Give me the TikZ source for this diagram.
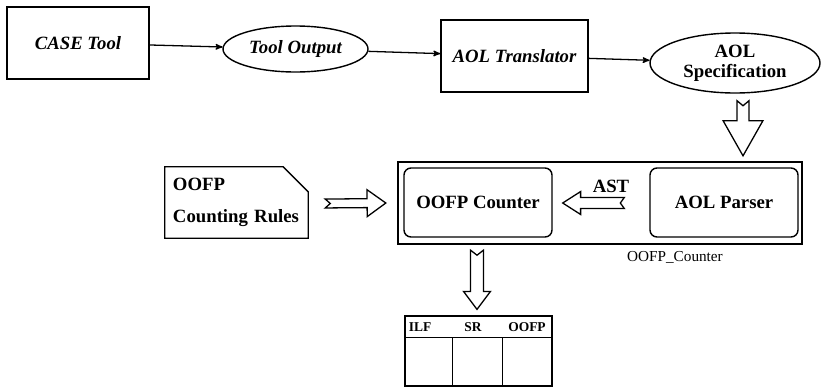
\documentclass[tikz,border=0pt]{standalone}
\usepackage{fontspec}
\setmainfont{Liberation Serif}
\setsansfont{Liberation Sans}
\usetikzlibrary{calc,shapes,arrows}
\tikzstyle{every edge}=[->,>=stealth',line width=1.1pt,draw]
\tikzstyle{tool}=[draw,line width=1.2pt,minimum width=4.26cm,minimum height=2.16cm,font=\fontsize{16}{18}\selectfont\bfseries\itshape]
\tikzstyle{data}=[draw,ellipse,line width=1.2pt,inner sep=0pt,font=\fontsize{16}{18}\selectfont\bfseries\itshape]
\tikzstyle{part}=[draw,rounded corners=6pt,line width=1.2pt,minimum width=4.44cm,minimum height=2.07cm,font=\fontsize{16}{18}\selectfont\bfseries]
\tikzstyle{head}=[inner sep=0pt,font=\fontsize{11.5}{13}\selectfont\bfseries]
% hollow block arrow: shaft half width, head half width, head length, notch depth
\tikzset{hollow/.style n args={4}{draw,line width=1.1pt,fill=white,to path={
    let \p1=(\tikztostart), \p2=(\tikztotarget),
        \p3=($(\p2)!#3!(\p1)$), \p4=($(\p1)!#4!(\p2)$) in
    ($(\p1)!#1!90:(\p2)$) -- ($(\p3)!#1!90:(\p2)$) -- ($(\p3)!#2!90:(\p2)$)
    -- (\p2) -- ($(\p3)!#2!-90:(\p2)$) -- ($(\p3)!#1!-90:(\p2)$)
    -- ($(\p1)!#1!-90:(\p2)$) -- (\p4) -- cycle}}}

\begin{document}
\begin{tikzpicture}[x=0.03cm,y=-0.03cm]
  \useasboundingbox (0,0) rectangle (821,386);

  % top row
  \node[tool] (case) at (78,43) {CASE Tool};
  \node[data,minimum width=4.35cm,minimum height=1.38cm] (out) at (295.5,49) {Tool Output};
  \node[tool,minimum width=4.41cm] (trans) at (514.5,56) {AOL Translator};
  \node[data,minimum width=5.1cm,minimum height=1.8cm,align=center,
        font=\fontsize{16}{17}\selectfont\bfseries] (spec) at (735,63) {AOL\\Specification};

  \path (case) edge (out)
  (out) edge (trans)
  (trans) edge (spec);

  % counting rules
  \node[text width=3.81cm,inner xsep=0.24cm,minimum height=2.13cm,align=left,
        font=\fontsize{16}{27}\selectfont\bfseries] (rules) at (236.5,202.5) {OOFP\\Counting Rules};
  \draw[line width=1.2pt] (rules.south west) -- (rules.north west)
    -- ($(rules.north east)+(-25,0)$) -- ($(rules.north east)+(0,25)$)
    -- (rules.south east) -- cycle;

  % counter component
  \node[draw,line width=2pt,minimum width=12.12cm,minimum height=2.46cm] (counter) at (600,203) {};
  \node[part] (cnt) at (478,202.5) {OOFP Counter};
  \node[part] (parser) at (724,202.5) {AOL Parser};
  \node[font=\fontsize{16}{18}\selectfont\bfseries] (ast) at (611,186) {AST};
  \node[font=\fontsize{13}{15}\selectfont] (cname) at (675,257) {OOFP\_Counter};

  % result table
  \node[draw,line width=1.1pt,minimum width=4.41cm,minimum height=2.1cm] (tab) at (478.5,351) {};
  \draw[line width=1.1pt] ($(tab.north west)+(0,22)$) -- ($(tab.north east)+(0,22)$);
  \draw[line width=1.1pt] ($(tab.north west)+(48,22)$) -- ($(tab.south west)+(48,0)$);
  \draw[line width=1.1pt] ($(tab.north west)+(98,22)$) -- ($(tab.south west)+(98,0)$);
  \node[head] (hilf) at (420,327) {ILF};
  \node[head] (hsr) at (473,327) {SR};
  \node[head] (hoofp) at (527,327) {OOFP};

  % block arrows
  \coordinate (s1) at ($(spec.south)+(8,7)$);
  \coordinate (t1) at ($(s1 |- counter.north)+(0,-5)$);
  \path[hollow={5.1pt}{17pt}{30pt}{4.3pt}] (s1) to (t1);

  \coordinate (s2) at ($(rules.east)+(17,1)$);
  \coordinate (t2) at ($(counter.west)+(-11,0)$);
  \path[hollow={3.8pt}{11.5pt}{16pt}{4.3pt}] (s2) to (t2);

  \coordinate (s3) at ($(parser.west)+(-25,0.5)$);
  \coordinate (t3) at ($(cnt.east)+(10,0.5)$);
  \path[hollow={4.7pt}{9.8pt}{15.3pt}{3.4pt}] (s3) to (t3);

  \coordinate (s4) at ($(cnt.south |- counter.south)+(-1,5)$);
  \coordinate (t4) at ($(s4 |- tab.north)+(0,-6)$);
  \path[hollow={5.5pt}{11.5pt}{15.3pt}{4.3pt}] (s4) to (t4);
\end{tikzpicture}
\end{document}
